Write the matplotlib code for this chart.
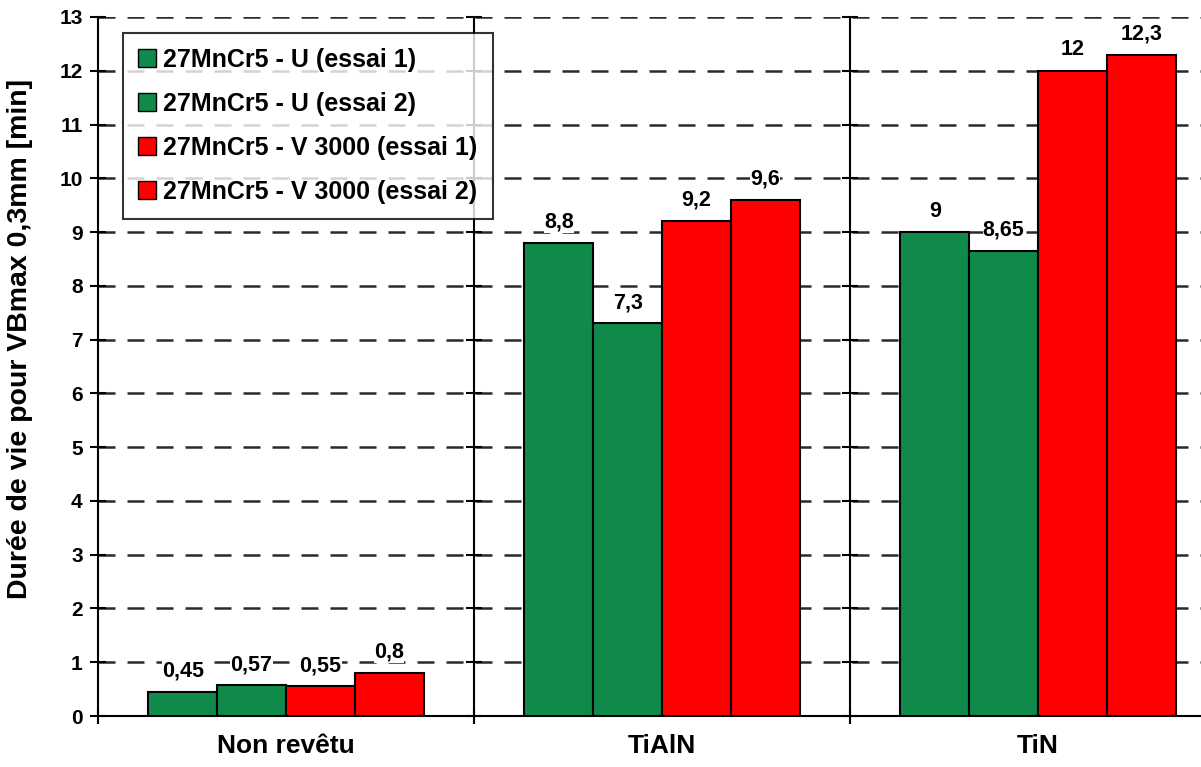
import matplotlib
matplotlib.use("Agg")
import matplotlib.pyplot as plt
import numpy as np

categories = ["Non revêtu", "TiAlN", "TiN"]
series_labels = [
    "27MnCr5 - U (essai 1)",
    "27MnCr5 - U (essai 2)",
    "27MnCr5 - V 3000 (essai 1)",
    "27MnCr5 - V 3000 (essai 2)",
]
values = [
    [0.45, 8.8, 9.0],
    [0.57, 7.3, 8.65],
    [0.55, 9.2, 12.0],
    [0.8, 9.6, 12.3],
]
value_texts = [
    ["0,45", "8,8", "9"],
    ["0,57", "7,3", "8,65"],
    ["0,55", "9,2", "12"],
    ["0,8", "9,6", "12,3"],
]
colors = ["#0f8a4a", "#0f8a4a", "#ff0000", "#ff0000"]
yticks = list(range(0, 14))

plt.rcParams["font.family"] = ["Liberation Sans", "DejaVu Sans"]
plt.rcParams["font.weight"] = "bold"

fig = plt.figure(figsize=(12.01, 7.67), dpi=100)
ax = fig.add_axes([98 / 1201, 51 / 767, 1128 / 1201, 699 / 767])

n = len(series_labels)
width = 0.183
x = np.arange(len(categories))
for i in range(n):
    offs = (i - (n - 1) / 2) * width
    ax.bar(x + offs, values[i], width, color=colors[i], edgecolor="black",
           linewidth=1.5, label=series_labels[i], zorder=3)
    for xi, v, t in zip(x + offs, values[i], value_texts[i]):
        ax.annotate(t, (xi, v), xytext=(0, 15), textcoords="offset points",
                    ha="center", va="center", fontsize=15.5, fontweight="bold",
                    zorder=4,
                    bbox=dict(fc="white", ec="none", pad=0.2))

ax.set_xlim(-0.5, len(categories) - 0.5)
ax.set_ylim(0, 13)
ax.set_yticks(yticks)
ax.set_yticklabels([str(t) for t in yticks], fontsize=15, fontweight="bold")
ax.set_xticks(x)
ax.set_xticklabels(categories, fontsize=19, fontweight="bold")
ax.tick_params(axis="x", length=0, pad=13)
ax.tick_params(axis="y", direction="inout", length=12, width=1.5, pad=5)

# category separators with crossing ticks
for b in np.arange(0.5, len(categories) - 0.5, 1.0):
    ax.axvline(b, color="black", lw=1.5, zorder=2)
    ax.plot([b] * len(yticks), yticks, ls="none", marker="_", ms=12,
            mew=1.5, color="black", zorder=2, clip_on=False)
for b in np.arange(-0.5, len(categories) - 0.5, 1.0):
    ax.plot([b], [0], ls="none", marker="|", ms=12, mew=1.5, color="black",
            zorder=2, clip_on=False)

# dashed grid
for yv in yticks[1:]:
    ax.axhline(yv, color="#2a2a2a", lw=1.8, ls=(0, (6.8, 4.8)), zorder=1)

for s in ["top", "right"]:
    ax.spines[s].set_visible(False)
ax.spines["left"].set_linewidth(1.5)
ax.spines["bottom"].set_linewidth(1.5)

ax.set_ylabel("Durée de vie pour VBmax 0,3mm [min]", fontsize=20.5,
              fontweight="bold")
ax.yaxis.set_label_coords(-0.0576, 0.54)

leg = ax.legend(loc="upper left", bbox_to_anchor=(0.022, 0.977),
                prop={"weight": "bold", "size": 18}, frameon=True, fancybox=False,
                handlelength=0.72, handleheight=0.72, handletextpad=0.3,
                labelspacing=0.8, borderpad=0.6, borderaxespad=0)
leg.get_frame().set_edgecolor("black")
leg.get_frame().set_linewidth(1.5)
leg.set_zorder(5)
for h in leg.legend_handles:
    h.set_linewidth(1.0)

fig.savefig("out.png", dpi=100)
